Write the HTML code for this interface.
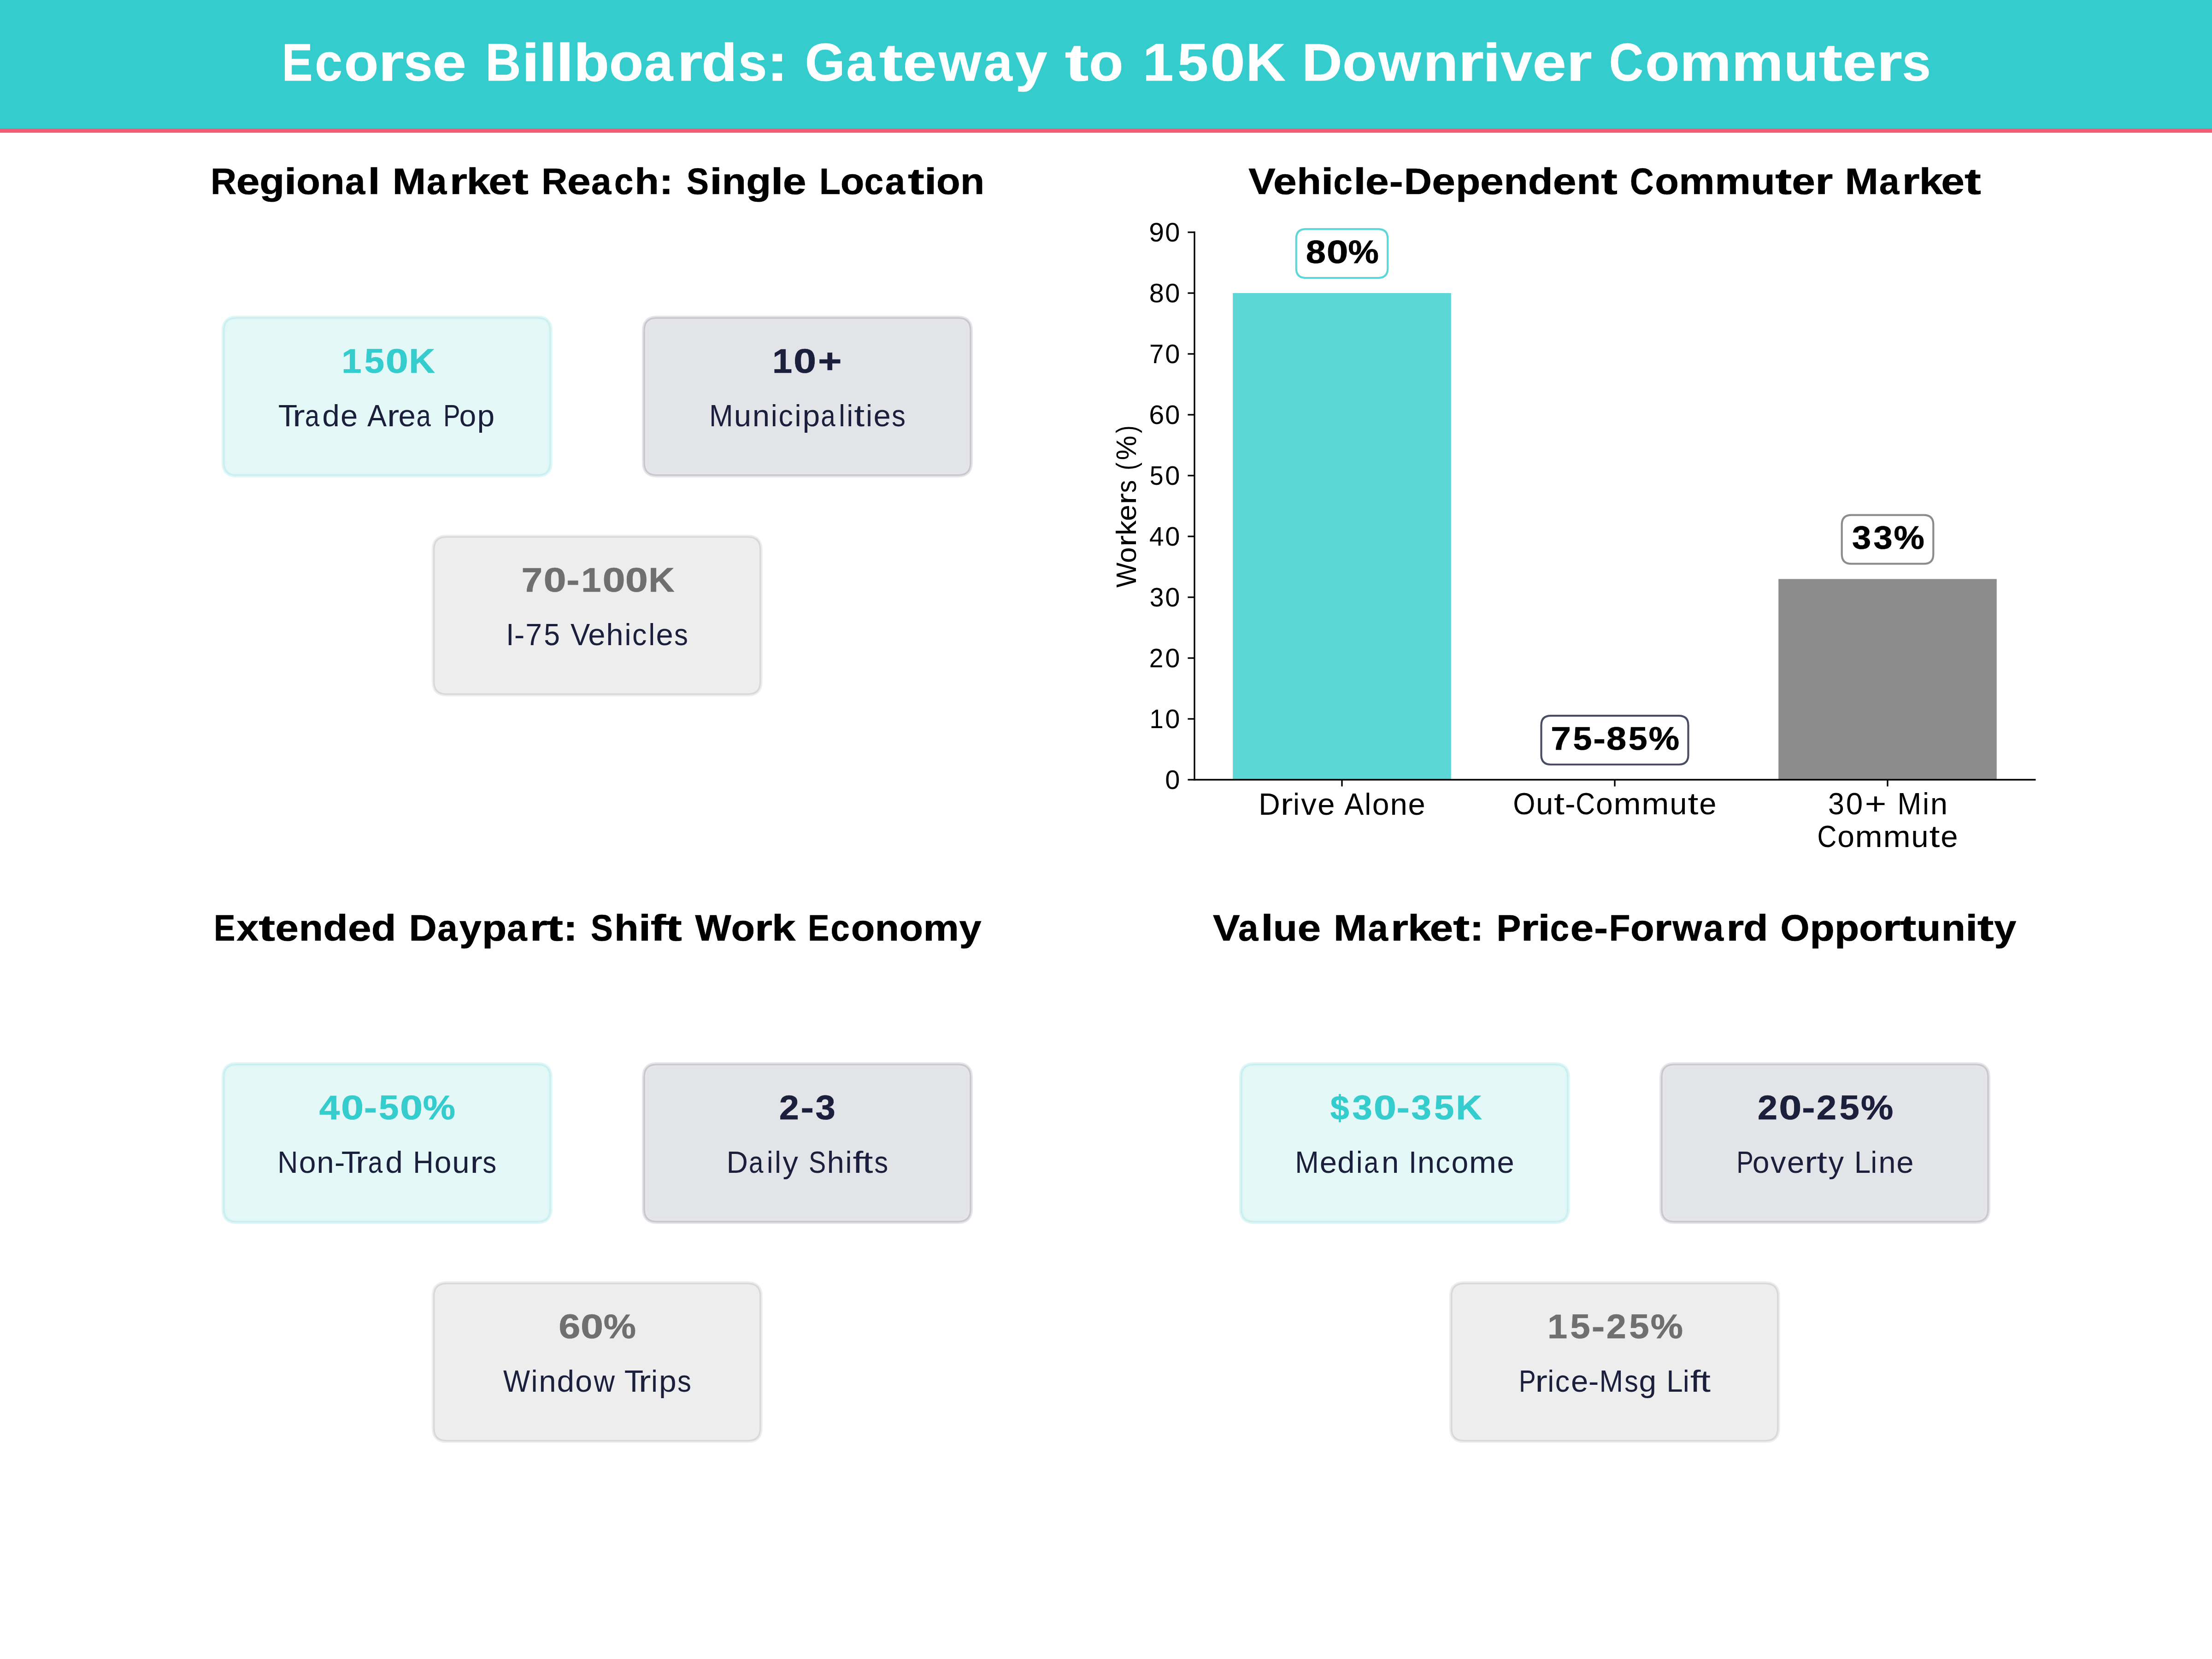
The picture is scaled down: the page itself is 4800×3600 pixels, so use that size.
<!DOCTYPE html>
<html><head><meta charset="utf-8"><style>
html,body{margin:0;padding:0;background:#fff;}
svg{display:block;}
text{font-family:"Liberation Sans", sans-serif;}
</style></head><body>
<svg width="4800" height="3600" viewBox="0 0 4800 3600">
<rect width="4800" height="3600" fill="#fff"/>
<rect x="0" y="0" width="4800" height="279" fill="#35CCCD"/>
<rect x="0" y="279" width="4800" height="9" fill="#F25C74"/>
<text x="611.87" y="175.00" font-size="114.62" font-weight="bold" fill="#FFFFFF" stroke="#FFFFFF" stroke-width="0.7" textLength="66.63" lengthAdjust="spacingAndGlyphs">E</text>
<text x="683.17" y="175.00" font-size="114.62" font-weight="bold" fill="#FFFFFF" stroke="#FFFFFF" stroke-width="0.7" textLength="59.74" lengthAdjust="spacingAndGlyphs">c</text>
<text x="746.82" y="175.00" font-size="114.62" font-weight="bold" fill="#FFFFFF" stroke="#FFFFFF" stroke-width="0.7" textLength="74.60" lengthAdjust="spacingAndGlyphs">o</text>
<text x="820.95" y="175.00" font-size="114.62" font-weight="bold" fill="#FFFFFF" stroke="#FFFFFF" stroke-width="0.7" textLength="55.67" lengthAdjust="spacingAndGlyphs">r</text>
<text x="876.30" y="175.00" font-size="114.62" font-weight="bold" fill="#FFFFFF" stroke="#FFFFFF" stroke-width="0.7" textLength="62.29" lengthAdjust="spacingAndGlyphs">s</text>
<text x="938.79" y="175.00" font-size="114.62" font-weight="bold" fill="#FFFFFF" stroke="#FFFFFF" stroke-width="0.7" textLength="73.26" lengthAdjust="spacingAndGlyphs">e</text>
<text x="1053.15" y="175.00" font-size="114.62" font-weight="bold" fill="#FFFFFF" stroke="#FFFFFF" stroke-width="0.7" textLength="77.13" lengthAdjust="spacingAndGlyphs">B</text>
<text x="1132.32" y="175.00" font-size="114.62" font-weight="bold" fill="#FFFFFF" stroke="#FFFFFF" stroke-width="0.7" textLength="38.41" lengthAdjust="spacingAndGlyphs">i</text>
<text x="1169.46" y="175.00" font-size="114.62" font-weight="bold" fill="#FFFFFF" stroke="#FFFFFF" stroke-width="0.7" textLength="38.41" lengthAdjust="spacingAndGlyphs">l</text>
<text x="1206.59" y="175.00" font-size="114.62" font-weight="bold" fill="#FFFFFF" stroke="#FFFFFF" stroke-width="0.7" textLength="38.41" lengthAdjust="spacingAndGlyphs">l</text>
<text x="1245.11" y="175.00" font-size="114.62" font-weight="bold" fill="#FFFFFF" stroke="#FFFFFF" stroke-width="0.7" textLength="76.98" lengthAdjust="spacingAndGlyphs">b</text>
<text x="1321.86" y="175.00" font-size="114.62" font-weight="bold" fill="#FFFFFF" stroke="#FFFFFF" stroke-width="0.7" textLength="74.60" lengthAdjust="spacingAndGlyphs">o</text>
<text x="1397.90" y="175.00" font-size="114.62" font-weight="bold" fill="#FFFFFF" stroke="#FFFFFF" stroke-width="0.7" textLength="62.18" lengthAdjust="spacingAndGlyphs">a</text>
<text x="1469.09" y="175.00" font-size="114.62" font-weight="bold" fill="#FFFFFF" stroke="#FFFFFF" stroke-width="0.7" textLength="55.67" lengthAdjust="spacingAndGlyphs">r</text>
<text x="1522.37" y="175.00" font-size="114.62" font-weight="bold" fill="#FFFFFF" stroke="#FFFFFF" stroke-width="0.7" textLength="77.29" lengthAdjust="spacingAndGlyphs">d</text>
<text x="1601.98" y="175.00" font-size="114.62" font-weight="bold" fill="#FFFFFF" stroke="#FFFFFF" stroke-width="0.7" textLength="62.29" lengthAdjust="spacingAndGlyphs">s</text>
<text x="1663.66" y="175.00" font-size="114.62" font-weight="bold" fill="#FFFFFF" stroke="#FFFFFF" stroke-width="0.7" textLength="45.92" lengthAdjust="spacingAndGlyphs">:</text>
<text x="1746.78" y="175.00" font-size="114.62" font-weight="bold" fill="#FFFFFF" stroke="#FFFFFF" stroke-width="0.7" textLength="86.84" lengthAdjust="spacingAndGlyphs">G</text>
<text x="1836.40" y="175.00" font-size="114.62" font-weight="bold" fill="#FFFFFF" stroke="#FFFFFF" stroke-width="0.7" textLength="62.18" lengthAdjust="spacingAndGlyphs">a</text>
<text x="1907.44" y="175.00" font-size="114.62" font-weight="bold" fill="#FFFFFF" stroke="#FFFFFF" stroke-width="0.7" textLength="51.70" lengthAdjust="spacingAndGlyphs">t</text>
<text x="1959.31" y="175.00" font-size="114.62" font-weight="bold" fill="#FFFFFF" stroke="#FFFFFF" stroke-width="0.7" textLength="73.26" lengthAdjust="spacingAndGlyphs">e</text>
<text x="2037.20" y="175.00" font-size="114.62" font-weight="bold" fill="#FFFFFF" stroke="#FFFFFF" stroke-width="0.7" textLength="92.14" lengthAdjust="spacingAndGlyphs">w</text>
<text x="2134.85" y="175.00" font-size="114.62" font-weight="bold" fill="#FFFFFF" stroke="#FFFFFF" stroke-width="0.7" textLength="62.18" lengthAdjust="spacingAndGlyphs">a</text>
<text x="2203.21" y="175.00" font-size="114.62" font-weight="bold" fill="#FFFFFF" stroke="#FFFFFF" stroke-width="0.7" textLength="69.14" lengthAdjust="spacingAndGlyphs">y</text>
<text x="2310.88" y="175.00" font-size="114.62" font-weight="bold" fill="#FFFFFF" stroke="#FFFFFF" stroke-width="0.7" textLength="51.70" lengthAdjust="spacingAndGlyphs">t</text>
<text x="2363.12" y="175.00" font-size="114.62" font-weight="bold" fill="#FFFFFF" stroke="#FFFFFF" stroke-width="0.7" textLength="74.60" lengthAdjust="spacingAndGlyphs">o</text>
<text x="2480.00" y="175.00" font-size="114.62" font-weight="bold" fill="#FFFFFF" stroke="#FFFFFF" stroke-width="0.7" textLength="66.44" lengthAdjust="spacingAndGlyphs">1</text>
<text x="2555.28" y="175.00" font-size="114.62" font-weight="bold" fill="#FFFFFF" stroke="#FFFFFF" stroke-width="0.7" textLength="66.54" lengthAdjust="spacingAndGlyphs">5</text>
<text x="2625.96" y="175.00" font-size="114.62" font-weight="bold" fill="#FFFFFF" stroke="#FFFFFF" stroke-width="0.7" textLength="76.02" lengthAdjust="spacingAndGlyphs">0</text>
<text x="2703.35" y="175.00" font-size="114.62" font-weight="bold" fill="#FFFFFF" stroke="#FFFFFF" stroke-width="0.7" textLength="86.42" lengthAdjust="spacingAndGlyphs">K</text>
<text x="2824.91" y="175.00" font-size="114.62" font-weight="bold" fill="#FFFFFF" stroke="#FFFFFF" stroke-width="0.7" textLength="87.48" lengthAdjust="spacingAndGlyphs">D</text>
<text x="2912.98" y="175.00" font-size="114.62" font-weight="bold" fill="#FFFFFF" stroke="#FFFFFF" stroke-width="0.7" textLength="74.60" lengthAdjust="spacingAndGlyphs">o</text>
<text x="2991.46" y="175.00" font-size="114.62" font-weight="bold" fill="#FFFFFF" stroke="#FFFFFF" stroke-width="0.7" textLength="92.14" lengthAdjust="spacingAndGlyphs">w</text>
<text x="3088.46" y="175.00" font-size="114.62" font-weight="bold" fill="#FFFFFF" stroke="#FFFFFF" stroke-width="0.7" textLength="75.40" lengthAdjust="spacingAndGlyphs">n</text>
<text x="3164.32" y="175.00" font-size="114.62" font-weight="bold" fill="#FFFFFF" stroke="#FFFFFF" stroke-width="0.7" textLength="55.67" lengthAdjust="spacingAndGlyphs">r</text>
<text x="3217.45" y="175.00" font-size="114.62" font-weight="bold" fill="#FFFFFF" stroke="#FFFFFF" stroke-width="0.7" textLength="38.41" lengthAdjust="spacingAndGlyphs">i</text>
<text x="3256.43" y="175.00" font-size="114.62" font-weight="bold" fill="#FFFFFF" stroke="#FFFFFF" stroke-width="0.7" textLength="68.31" lengthAdjust="spacingAndGlyphs">v</text>
<text x="3325.42" y="175.00" font-size="114.62" font-weight="bold" fill="#FFFFFF" stroke="#FFFFFF" stroke-width="0.7" textLength="73.26" lengthAdjust="spacingAndGlyphs">e</text>
<text x="3398.97" y="175.00" font-size="114.62" font-weight="bold" fill="#FFFFFF" stroke="#FFFFFF" stroke-width="0.7" textLength="55.67" lengthAdjust="spacingAndGlyphs">r</text>
<text x="3491.67" y="175.00" font-size="114.62" font-weight="bold" fill="#FFFFFF" stroke="#FFFFFF" stroke-width="0.7" textLength="74.19" lengthAdjust="spacingAndGlyphs">C</text>
<text x="3569.91" y="175.00" font-size="114.62" font-weight="bold" fill="#FFFFFF" stroke="#FFFFFF" stroke-width="0.7" textLength="74.60" lengthAdjust="spacingAndGlyphs">o</text>
<text x="3645.19" y="175.00" font-size="114.62" font-weight="bold" fill="#FFFFFF" stroke="#FFFFFF" stroke-width="0.7" textLength="111.25" lengthAdjust="spacingAndGlyphs">m</text>
<text x="3758.08" y="175.00" font-size="114.62" font-weight="bold" fill="#FFFFFF" stroke="#FFFFFF" stroke-width="0.7" textLength="111.25" lengthAdjust="spacingAndGlyphs">m</text>
<text x="3871.14" y="175.00" font-size="114.62" font-weight="bold" fill="#FFFFFF" stroke="#FFFFFF" stroke-width="0.7" textLength="75.06" lengthAdjust="spacingAndGlyphs">u</text>
<text x="3946.77" y="175.00" font-size="114.62" font-weight="bold" fill="#FFFFFF" stroke="#FFFFFF" stroke-width="0.7" textLength="51.70" lengthAdjust="spacingAndGlyphs">t</text>
<text x="3998.64" y="175.00" font-size="114.62" font-weight="bold" fill="#FFFFFF" stroke="#FFFFFF" stroke-width="0.7" textLength="73.26" lengthAdjust="spacingAndGlyphs">e</text>
<text x="4072.19" y="175.00" font-size="114.62" font-weight="bold" fill="#FFFFFF" stroke="#FFFFFF" stroke-width="0.7" textLength="55.67" lengthAdjust="spacingAndGlyphs">r</text>
<text x="4127.53" y="175.00" font-size="114.62" font-weight="bold" fill="#FFFFFF" stroke="#FFFFFF" stroke-width="0.7" textLength="62.29" lengthAdjust="spacingAndGlyphs">s</text>
<text x="456.95" y="421.00" font-size="79.35" font-weight="bold" fill="#000" stroke="#000" stroke-width="0.7" textLength="56.16" lengthAdjust="spacingAndGlyphs">R</text>
<text x="512.66" y="421.00" font-size="79.35" font-weight="bold" fill="#000" stroke="#000" stroke-width="0.7" textLength="50.76" lengthAdjust="spacingAndGlyphs">e</text>
<text x="563.35" y="421.00" font-size="79.35" font-weight="bold" fill="#000" stroke="#000" stroke-width="0.7" textLength="53.96" lengthAdjust="spacingAndGlyphs">g</text>
<text x="617.04" y="421.00" font-size="79.35" font-weight="bold" fill="#000" stroke="#000" stroke-width="0.7" textLength="26.56" lengthAdjust="spacingAndGlyphs">i</text>
<text x="643.17" y="421.00" font-size="79.35" font-weight="bold" fill="#000" stroke="#000" stroke-width="0.7" textLength="51.62" lengthAdjust="spacingAndGlyphs">o</text>
<text x="695.23" y="421.00" font-size="79.35" font-weight="bold" fill="#000" stroke="#000" stroke-width="0.7" textLength="52.27" lengthAdjust="spacingAndGlyphs">n</text>
<text x="749.07" y="421.00" font-size="79.35" font-weight="bold" fill="#000" stroke="#000" stroke-width="0.7" textLength="43.35" lengthAdjust="spacingAndGlyphs">a</text>
<text x="798.28" y="421.00" font-size="79.35" font-weight="bold" fill="#000" stroke="#000" stroke-width="0.7" textLength="26.56" lengthAdjust="spacingAndGlyphs">l</text>
<text x="851.72" y="421.00" font-size="79.35" font-weight="bold" fill="#000" stroke="#000" stroke-width="0.7" textLength="72.35" lengthAdjust="spacingAndGlyphs">M</text>
<text x="926.12" y="421.00" font-size="79.35" font-weight="bold" fill="#000" stroke="#000" stroke-width="0.7" textLength="43.35" lengthAdjust="spacingAndGlyphs">a</text>
<text x="975.43" y="421.00" font-size="79.35" font-weight="bold" fill="#000" stroke="#000" stroke-width="0.7" textLength="38.44" lengthAdjust="spacingAndGlyphs">r</text>
<text x="1012.52" y="421.00" font-size="79.35" font-weight="bold" fill="#000" stroke="#000" stroke-width="0.7" textLength="51.58" lengthAdjust="spacingAndGlyphs">k</text>
<text x="1060.36" y="421.00" font-size="79.35" font-weight="bold" fill="#000" stroke="#000" stroke-width="0.7" textLength="50.76" lengthAdjust="spacingAndGlyphs">e</text>
<text x="1111.09" y="421.00" font-size="79.35" font-weight="bold" fill="#000" stroke="#000" stroke-width="0.7" textLength="35.86" lengthAdjust="spacingAndGlyphs">t</text>
<text x="1175.23" y="421.00" font-size="79.35" font-weight="bold" fill="#000" stroke="#000" stroke-width="0.7" textLength="56.16" lengthAdjust="spacingAndGlyphs">R</text>
<text x="1230.94" y="421.00" font-size="79.35" font-weight="bold" fill="#000" stroke="#000" stroke-width="0.7" textLength="50.76" lengthAdjust="spacingAndGlyphs">e</text>
<text x="1283.03" y="421.00" font-size="79.35" font-weight="bold" fill="#000" stroke="#000" stroke-width="0.7" textLength="43.35" lengthAdjust="spacingAndGlyphs">a</text>
<text x="1333.04" y="421.00" font-size="79.35" font-weight="bold" fill="#000" stroke="#000" stroke-width="0.7" textLength="41.28" lengthAdjust="spacingAndGlyphs">c</text>
<text x="1377.35" y="421.00" font-size="79.35" font-weight="bold" fill="#000" stroke="#000" stroke-width="0.7" textLength="52.61" lengthAdjust="spacingAndGlyphs">h</text>
<text x="1430.30" y="421.00" font-size="79.35" font-weight="bold" fill="#000" stroke="#000" stroke-width="0.7" textLength="30.53" lengthAdjust="spacingAndGlyphs">:</text>
<text x="1490.01" y="421.00" font-size="79.35" font-weight="bold" fill="#000" stroke="#000" stroke-width="0.7" textLength="47.91" lengthAdjust="spacingAndGlyphs">S</text>
<text x="1540.22" y="421.00" font-size="79.35" font-weight="bold" fill="#000" stroke="#000" stroke-width="0.7" textLength="26.56" lengthAdjust="spacingAndGlyphs">i</text>
<text x="1566.87" y="421.00" font-size="79.35" font-weight="bold" fill="#000" stroke="#000" stroke-width="0.7" textLength="52.27" lengthAdjust="spacingAndGlyphs">n</text>
<text x="1619.32" y="421.00" font-size="79.35" font-weight="bold" fill="#000" stroke="#000" stroke-width="0.7" textLength="53.96" lengthAdjust="spacingAndGlyphs">g</text>
<text x="1673.00" y="421.00" font-size="79.35" font-weight="bold" fill="#000" stroke="#000" stroke-width="0.7" textLength="26.56" lengthAdjust="spacingAndGlyphs">l</text>
<text x="1698.88" y="421.00" font-size="79.35" font-weight="bold" fill="#000" stroke="#000" stroke-width="0.7" textLength="50.76" lengthAdjust="spacingAndGlyphs">e</text>
<text x="1778.05" y="421.00" font-size="79.35" font-weight="bold" fill="#000" stroke="#000" stroke-width="0.7" textLength="46.09" lengthAdjust="spacingAndGlyphs">L</text>
<text x="1823.89" y="421.00" font-size="79.35" font-weight="bold" fill="#000" stroke="#000" stroke-width="0.7" textLength="51.62" lengthAdjust="spacingAndGlyphs">o</text>
<text x="1875.80" y="421.00" font-size="79.35" font-weight="bold" fill="#000" stroke="#000" stroke-width="0.7" textLength="41.28" lengthAdjust="spacingAndGlyphs">c</text>
<text x="1920.85" y="421.00" font-size="79.35" font-weight="bold" fill="#000" stroke="#000" stroke-width="0.7" textLength="43.35" lengthAdjust="spacingAndGlyphs">a</text>
<text x="1970.10" y="421.00" font-size="79.35" font-weight="bold" fill="#000" stroke="#000" stroke-width="0.7" textLength="35.86" lengthAdjust="spacingAndGlyphs">t</text>
<text x="2005.92" y="421.00" font-size="79.35" font-weight="bold" fill="#000" stroke="#000" stroke-width="0.7" textLength="26.56" lengthAdjust="spacingAndGlyphs">i</text>
<text x="2032.05" y="421.00" font-size="79.35" font-weight="bold" fill="#000" stroke="#000" stroke-width="0.7" textLength="51.62" lengthAdjust="spacingAndGlyphs">o</text>
<text x="2084.11" y="421.00" font-size="79.35" font-weight="bold" fill="#000" stroke="#000" stroke-width="0.7" textLength="52.27" lengthAdjust="spacingAndGlyphs">n</text>
<path d="M512.80,690.00 H1166.80 Q1193.80,690.00 1193.80,717.00 V1004.00 Q1193.80,1031.00 1166.80,1031.00 H512.80 Q485.80,1031.00 485.80,1004.00 V717.00 Q485.80,690.00 512.80,690.00 Z" fill="#E4F8F8" stroke="#E0F7F8" stroke-width="10"/>
<path d="M512.80,690.00 H1166.80 Q1193.80,690.00 1193.80,717.00 V1004.00 Q1193.80,1031.00 1166.80,1031.00 H512.80 Q485.80,1031.00 485.80,1004.00 V717.00 Q485.80,690.00 512.80,690.00 Z" fill="none" stroke="#CDEEEF" stroke-width="3.6"/>
<text x="741.37" y="808.50" font-size="74.94" font-weight="bold" fill="#34CCCC" stroke="#34CCCC" stroke-width="0.7" textLength="43.17" lengthAdjust="spacingAndGlyphs">1</text>
<text x="790.73" y="808.50" font-size="74.94" font-weight="bold" fill="#34CCCC" stroke="#34CCCC" stroke-width="0.7" textLength="43.36" lengthAdjust="spacingAndGlyphs">5</text>
<text x="836.80" y="808.50" font-size="74.94" font-weight="bold" fill="#34CCCC" stroke="#34CCCC" stroke-width="0.7" textLength="49.26" lengthAdjust="spacingAndGlyphs">0</text>
<text x="887.43" y="808.50" font-size="74.94" font-weight="bold" fill="#34CCCC" stroke="#34CCCC" stroke-width="0.7" textLength="56.36" lengthAdjust="spacingAndGlyphs">K</text>
<text x="603.86" y="924.50" font-size="66.13" fill="#1B1F3B" textLength="41.47" lengthAdjust="spacingAndGlyphs">T</text>
<text x="634.91" y="924.50" font-size="66.13" fill="#1B1F3B" textLength="26.69" lengthAdjust="spacingAndGlyphs">r</text>
<text x="661.76" y="924.50" font-size="66.13" fill="#1B1F3B" textLength="31.37" lengthAdjust="spacingAndGlyphs">a</text>
<text x="699.32" y="924.50" font-size="66.13" fill="#1B1F3B" textLength="37.70" lengthAdjust="spacingAndGlyphs">d</text>
<text x="739.01" y="924.50" font-size="66.13" fill="#1B1F3B" textLength="37.37" lengthAdjust="spacingAndGlyphs">e</text>
<text x="796.90" y="924.50" font-size="66.13" fill="#1B1F3B" textLength="42.09" lengthAdjust="spacingAndGlyphs">A</text>
<text x="839.65" y="924.50" font-size="66.13" fill="#1B1F3B" textLength="26.69" lengthAdjust="spacingAndGlyphs">r</text>
<text x="864.41" y="924.50" font-size="66.13" fill="#1B1F3B" textLength="37.37" lengthAdjust="spacingAndGlyphs">e</text>
<text x="903.58" y="924.50" font-size="66.13" fill="#1B1F3B" textLength="31.37" lengthAdjust="spacingAndGlyphs">a</text>
<text x="962.03" y="924.50" font-size="66.13" fill="#1B1F3B" textLength="36.60" lengthAdjust="spacingAndGlyphs">P</text>
<text x="996.54" y="924.50" font-size="66.13" fill="#1B1F3B" textLength="36.78" lengthAdjust="spacingAndGlyphs">o</text>
<text x="1035.41" y="924.50" font-size="66.13" fill="#1B1F3B" textLength="37.70" lengthAdjust="spacingAndGlyphs">p</text>
<path d="M1425.00,690.00 H2079.00 Q2106.00,690.00 2106.00,717.00 V1004.00 Q2106.00,1031.00 2079.00,1031.00 H1425.00 Q1398.00,1031.00 1398.00,1004.00 V717.00 Q1398.00,690.00 1425.00,690.00 Z" fill="#E3E4E8" stroke="#E5E6EA" stroke-width="10"/>
<path d="M1425.00,690.00 H2079.00 Q2106.00,690.00 2106.00,717.00 V1004.00 Q2106.00,1031.00 2079.00,1031.00 H1425.00 Q1398.00,1031.00 1398.00,1004.00 V717.00 Q1398.00,690.00 1425.00,690.00 Z" fill="none" stroke="#C8C8CE" stroke-width="3.6"/>
<text x="1675.98" y="808.50" font-size="74.94" font-weight="bold" fill="#1B1F3B" stroke="#1B1F3B" stroke-width="0.7" textLength="43.17" lengthAdjust="spacingAndGlyphs">1</text>
<text x="1722.13" y="808.50" font-size="74.94" font-weight="bold" fill="#1B1F3B" stroke="#1B1F3B" stroke-width="0.7" textLength="49.26" lengthAdjust="spacingAndGlyphs">0</text>
<text x="1775.12" y="808.50" font-size="74.94" font-weight="bold" fill="#1B1F3B" stroke="#1B1F3B" stroke-width="0.7" textLength="51.64" lengthAdjust="spacingAndGlyphs">+</text>
<text x="1539.06" y="924.50" font-size="66.13" fill="#1B1F3B" textLength="51.66" lengthAdjust="spacingAndGlyphs">M</text>
<text x="1592.81" y="924.50" font-size="66.13" fill="#1B1F3B" textLength="37.43" lengthAdjust="spacingAndGlyphs">u</text>
<text x="1632.67" y="924.50" font-size="66.13" fill="#1B1F3B" textLength="37.43" lengthAdjust="spacingAndGlyphs">n</text>
<text x="1672.82" y="924.50" font-size="66.13" fill="#1B1F3B" textLength="14.05" lengthAdjust="spacingAndGlyphs">i</text>
<text x="1689.38" y="924.50" font-size="66.13" fill="#1B1F3B" textLength="31.32" lengthAdjust="spacingAndGlyphs">c</text>
<text x="1724.54" y="924.50" font-size="66.13" fill="#1B1F3B" textLength="14.05" lengthAdjust="spacingAndGlyphs">i</text>
<text x="1741.59" y="924.50" font-size="66.13" fill="#1B1F3B" textLength="37.70" lengthAdjust="spacingAndGlyphs">p</text>
<text x="1781.30" y="924.50" font-size="66.13" fill="#1B1F3B" textLength="31.37" lengthAdjust="spacingAndGlyphs">a</text>
<text x="1819.88" y="924.50" font-size="66.13" fill="#1B1F3B" textLength="14.05" lengthAdjust="spacingAndGlyphs">l</text>
<text x="1837.24" y="924.50" font-size="66.13" fill="#1B1F3B" textLength="14.05" lengthAdjust="spacingAndGlyphs">i</text>
<text x="1853.37" y="924.50" font-size="66.13" fill="#1B1F3B" textLength="22.96" lengthAdjust="spacingAndGlyphs">t</text>
<text x="1879.11" y="924.50" font-size="66.13" fill="#1B1F3B" textLength="14.05" lengthAdjust="spacingAndGlyphs">i</text>
<text x="1895.48" y="924.50" font-size="66.13" fill="#1B1F3B" textLength="37.37" lengthAdjust="spacingAndGlyphs">e</text>
<text x="1934.93" y="924.50" font-size="66.13" fill="#1B1F3B" textLength="29.90" lengthAdjust="spacingAndGlyphs">s</text>
<path d="M968.75,1165.25 H1622.75 Q1649.75,1165.25 1649.75,1192.25 V1479.25 Q1649.75,1506.25 1622.75,1506.25 H968.75 Q941.75,1506.25 941.75,1479.25 V1192.25 Q941.75,1165.25 968.75,1165.25 Z" fill="#EDEDED" stroke="#EEEEEE" stroke-width="10"/>
<path d="M968.75,1165.25 H1622.75 Q1649.75,1165.25 1649.75,1192.25 V1479.25 Q1649.75,1506.25 1622.75,1506.25 H968.75 Q941.75,1506.25 941.75,1479.25 V1192.25 Q941.75,1165.25 968.75,1165.25 Z" fill="none" stroke="#D9D9D9" stroke-width="3.6"/>
<text x="1131.42" y="1283.75" font-size="74.94" font-weight="bold" fill="#6F6F6F" stroke="#6F6F6F" stroke-width="0.7" textLength="45.82" lengthAdjust="spacingAndGlyphs">7</text>
<text x="1179.48" y="1283.75" font-size="74.94" font-weight="bold" fill="#6F6F6F" stroke="#6F6F6F" stroke-width="0.7" textLength="49.26" lengthAdjust="spacingAndGlyphs">0</text>
<text x="1229.13" y="1283.75" font-size="74.94" font-weight="bold" fill="#6F6F6F" stroke="#6F6F6F" stroke-width="0.7" textLength="28.57" lengthAdjust="spacingAndGlyphs">-</text>
<text x="1261.30" y="1283.75" font-size="74.94" font-weight="bold" fill="#6F6F6F" stroke="#6F6F6F" stroke-width="0.7" textLength="43.17" lengthAdjust="spacingAndGlyphs">1</text>
<text x="1307.45" y="1283.75" font-size="74.94" font-weight="bold" fill="#6F6F6F" stroke="#6F6F6F" stroke-width="0.7" textLength="49.26" lengthAdjust="spacingAndGlyphs">0</text>
<text x="1356.74" y="1283.75" font-size="74.94" font-weight="bold" fill="#6F6F6F" stroke="#6F6F6F" stroke-width="0.7" textLength="49.26" lengthAdjust="spacingAndGlyphs">0</text>
<text x="1407.37" y="1283.75" font-size="74.94" font-weight="bold" fill="#6F6F6F" stroke="#6F6F6F" stroke-width="0.7" textLength="56.36" lengthAdjust="spacingAndGlyphs">K</text>
<text x="1097.89" y="1399.75" font-size="66.13" fill="#1B1F3B" textLength="17.64" lengthAdjust="spacingAndGlyphs">I</text>
<text x="1115.73" y="1399.75" font-size="66.13" fill="#1B1F3B" textLength="22.71" lengthAdjust="spacingAndGlyphs">-</text>
<text x="1140.22" y="1399.75" font-size="66.13" fill="#1B1F3B" textLength="35.86" lengthAdjust="spacingAndGlyphs">7</text>
<text x="1180.31" y="1399.75" font-size="66.13" fill="#1B1F3B" textLength="34.72" lengthAdjust="spacingAndGlyphs">5</text>
<text x="1238.04" y="1399.75" font-size="66.13" fill="#1B1F3B" textLength="42.33" lengthAdjust="spacingAndGlyphs">V</text>
<text x="1276.39" y="1399.75" font-size="66.13" fill="#1B1F3B" textLength="37.37" lengthAdjust="spacingAndGlyphs">e</text>
<text x="1315.30" y="1399.75" font-size="66.13" fill="#1B1F3B" textLength="37.43" lengthAdjust="spacingAndGlyphs">h</text>
<text x="1355.45" y="1399.75" font-size="66.13" fill="#1B1F3B" textLength="14.05" lengthAdjust="spacingAndGlyphs">i</text>
<text x="1372.01" y="1399.75" font-size="66.13" fill="#1B1F3B" textLength="31.32" lengthAdjust="spacingAndGlyphs">c</text>
<text x="1407.18" y="1399.75" font-size="66.13" fill="#1B1F3B" textLength="14.05" lengthAdjust="spacingAndGlyphs">l</text>
<text x="1423.54" y="1399.75" font-size="66.13" fill="#1B1F3B" textLength="37.37" lengthAdjust="spacingAndGlyphs">e</text>
<text x="1462.99" y="1399.75" font-size="66.13" fill="#1B1F3B" textLength="29.90" lengthAdjust="spacingAndGlyphs">s</text>
<text x="464.31" y="2041.00" font-size="79.35" font-weight="bold" fill="#000" stroke="#000" stroke-width="0.7" textLength="46.09" lengthAdjust="spacingAndGlyphs">E</text>
<text x="513.58" y="2041.00" font-size="79.35" font-weight="bold" fill="#000" stroke="#000" stroke-width="0.7" textLength="47.48" lengthAdjust="spacingAndGlyphs">x</text>
<text x="561.18" y="2041.00" font-size="79.35" font-weight="bold" fill="#000" stroke="#000" stroke-width="0.7" textLength="35.86" lengthAdjust="spacingAndGlyphs">t</text>
<text x="597.17" y="2041.00" font-size="79.35" font-weight="bold" fill="#000" stroke="#000" stroke-width="0.7" textLength="50.76" lengthAdjust="spacingAndGlyphs">e</text>
<text x="648.82" y="2041.00" font-size="79.35" font-weight="bold" fill="#000" stroke="#000" stroke-width="0.7" textLength="52.27" lengthAdjust="spacingAndGlyphs">n</text>
<text x="701.28" y="2041.00" font-size="79.35" font-weight="bold" fill="#000" stroke="#000" stroke-width="0.7" textLength="53.62" lengthAdjust="spacingAndGlyphs">d</text>
<text x="755.12" y="2041.00" font-size="79.35" font-weight="bold" fill="#000" stroke="#000" stroke-width="0.7" textLength="50.76" lengthAdjust="spacingAndGlyphs">e</text>
<text x="805.84" y="2041.00" font-size="79.35" font-weight="bold" fill="#000" stroke="#000" stroke-width="0.7" textLength="53.62" lengthAdjust="spacingAndGlyphs">d</text>
<text x="887.46" y="2041.00" font-size="79.35" font-weight="bold" fill="#000" stroke="#000" stroke-width="0.7" textLength="60.24" lengthAdjust="spacingAndGlyphs">D</text>
<text x="949.27" y="2041.00" font-size="79.35" font-weight="bold" fill="#000" stroke="#000" stroke-width="0.7" textLength="43.35" lengthAdjust="spacingAndGlyphs">a</text>
<text x="996.72" y="2041.00" font-size="79.35" font-weight="bold" fill="#000" stroke="#000" stroke-width="0.7" textLength="48.00" lengthAdjust="spacingAndGlyphs">y</text>
<text x="1045.90" y="2041.00" font-size="79.35" font-weight="bold" fill="#000" stroke="#000" stroke-width="0.7" textLength="53.32" lengthAdjust="spacingAndGlyphs">p</text>
<text x="1100.15" y="2041.00" font-size="79.35" font-weight="bold" fill="#000" stroke="#000" stroke-width="0.7" textLength="43.35" lengthAdjust="spacingAndGlyphs">a</text>
<text x="1149.46" y="2041.00" font-size="79.35" font-weight="bold" fill="#000" stroke="#000" stroke-width="0.7" textLength="38.44" lengthAdjust="spacingAndGlyphs">r</text>
<text x="1186.38" y="2041.00" font-size="79.35" font-weight="bold" fill="#000" stroke="#000" stroke-width="0.7" textLength="35.86" lengthAdjust="spacingAndGlyphs">t</text>
<text x="1222.41" y="2041.00" font-size="79.35" font-weight="bold" fill="#000" stroke="#000" stroke-width="0.7" textLength="30.53" lengthAdjust="spacingAndGlyphs">:</text>
<text x="1282.11" y="2041.00" font-size="79.35" font-weight="bold" fill="#000" stroke="#000" stroke-width="0.7" textLength="47.91" lengthAdjust="spacingAndGlyphs">S</text>
<text x="1332.96" y="2041.00" font-size="79.35" font-weight="bold" fill="#000" stroke="#000" stroke-width="0.7" textLength="52.61" lengthAdjust="spacingAndGlyphs">h</text>
<text x="1385.71" y="2041.00" font-size="79.35" font-weight="bold" fill="#000" stroke="#000" stroke-width="0.7" textLength="26.56" lengthAdjust="spacingAndGlyphs">i</text>
<text x="1411.73" y="2041.00" font-size="79.35" font-weight="bold" fill="#000" stroke="#000" stroke-width="0.7" textLength="33.22" lengthAdjust="spacingAndGlyphs">f</text>
<text x="1444.08" y="2041.00" font-size="79.35" font-weight="bold" fill="#000" stroke="#000" stroke-width="0.7" textLength="35.86" lengthAdjust="spacingAndGlyphs">t</text>
<text x="1508.62" y="2041.00" font-size="79.35" font-weight="bold" fill="#000" stroke="#000" stroke-width="0.7" textLength="78.15" lengthAdjust="spacingAndGlyphs">W</text>
<text x="1586.48" y="2041.00" font-size="79.35" font-weight="bold" fill="#000" stroke="#000" stroke-width="0.7" textLength="51.62" lengthAdjust="spacingAndGlyphs">o</text>
<text x="1637.69" y="2041.00" font-size="79.35" font-weight="bold" fill="#000" stroke="#000" stroke-width="0.7" textLength="38.44" lengthAdjust="spacingAndGlyphs">r</text>
<text x="1674.77" y="2041.00" font-size="79.35" font-weight="bold" fill="#000" stroke="#000" stroke-width="0.7" textLength="51.58" lengthAdjust="spacingAndGlyphs">k</text>
<text x="1753.34" y="2041.00" font-size="79.35" font-weight="bold" fill="#000" stroke="#000" stroke-width="0.7" textLength="46.09" lengthAdjust="spacingAndGlyphs">E</text>
<text x="1802.60" y="2041.00" font-size="79.35" font-weight="bold" fill="#000" stroke="#000" stroke-width="0.7" textLength="41.28" lengthAdjust="spacingAndGlyphs">c</text>
<text x="1846.68" y="2041.00" font-size="79.35" font-weight="bold" fill="#000" stroke="#000" stroke-width="0.7" textLength="51.62" lengthAdjust="spacingAndGlyphs">o</text>
<text x="1898.74" y="2041.00" font-size="79.35" font-weight="bold" fill="#000" stroke="#000" stroke-width="0.7" textLength="52.27" lengthAdjust="spacingAndGlyphs">n</text>
<text x="1951.60" y="2041.00" font-size="79.35" font-weight="bold" fill="#000" stroke="#000" stroke-width="0.7" textLength="51.62" lengthAdjust="spacingAndGlyphs">o</text>
<text x="2003.57" y="2041.00" font-size="79.35" font-weight="bold" fill="#000" stroke="#000" stroke-width="0.7" textLength="77.29" lengthAdjust="spacingAndGlyphs">m</text>
<text x="2081.41" y="2041.00" font-size="79.35" font-weight="bold" fill="#000" stroke="#000" stroke-width="0.7" textLength="48.00" lengthAdjust="spacingAndGlyphs">y</text>
<path d="M512.80,2310.00 H1166.80 Q1193.80,2310.00 1193.80,2337.00 V2624.00 Q1193.80,2651.00 1166.80,2651.00 H512.80 Q485.80,2651.00 485.80,2624.00 V2337.00 Q485.80,2310.00 512.80,2310.00 Z" fill="#E4F8F8" stroke="#E0F7F8" stroke-width="10"/>
<path d="M512.80,2310.00 H1166.80 Q1193.80,2310.00 1193.80,2337.00 V2624.00 Q1193.80,2651.00 1166.80,2651.00 H512.80 Q485.80,2651.00 485.80,2624.00 V2337.00 Q485.80,2310.00 512.80,2310.00 Z" fill="none" stroke="#CDEEEF" stroke-width="3.6"/>
<text x="692.81" y="2428.50" font-size="74.94" font-weight="bold" fill="#34CCCC" stroke="#34CCCC" stroke-width="0.7" textLength="44.55" lengthAdjust="spacingAndGlyphs">4</text>
<text x="740.13" y="2428.50" font-size="74.94" font-weight="bold" fill="#34CCCC" stroke="#34CCCC" stroke-width="0.7" textLength="49.26" lengthAdjust="spacingAndGlyphs">0</text>
<text x="789.78" y="2428.50" font-size="74.94" font-weight="bold" fill="#34CCCC" stroke="#34CCCC" stroke-width="0.7" textLength="28.57" lengthAdjust="spacingAndGlyphs">-</text>
<text x="822.03" y="2428.50" font-size="74.94" font-weight="bold" fill="#34CCCC" stroke="#34CCCC" stroke-width="0.7" textLength="43.36" lengthAdjust="spacingAndGlyphs">5</text>
<text x="868.10" y="2428.50" font-size="74.94" font-weight="bold" fill="#34CCCC" stroke="#34CCCC" stroke-width="0.7" textLength="49.26" lengthAdjust="spacingAndGlyphs">0</text>
<text x="917.84" y="2428.50" font-size="74.94" font-weight="bold" fill="#34CCCC" stroke="#34CCCC" stroke-width="0.7" textLength="70.34" lengthAdjust="spacingAndGlyphs">%</text>
<text x="602.32" y="2544.50" font-size="66.13" fill="#1B1F3B" textLength="44.20" lengthAdjust="spacingAndGlyphs">N</text>
<text x="648.66" y="2544.50" font-size="66.13" fill="#1B1F3B" textLength="36.78" lengthAdjust="spacingAndGlyphs">o</text>
<text x="687.31" y="2544.50" font-size="66.13" fill="#1B1F3B" textLength="37.43" lengthAdjust="spacingAndGlyphs">n</text>
<text x="725.66" y="2544.50" font-size="66.13" fill="#1B1F3B" textLength="22.71" lengthAdjust="spacingAndGlyphs">-</text>
<text x="740.78" y="2544.50" font-size="66.13" fill="#1B1F3B" textLength="41.47" lengthAdjust="spacingAndGlyphs">T</text>
<text x="771.83" y="2544.50" font-size="66.13" fill="#1B1F3B" textLength="26.69" lengthAdjust="spacingAndGlyphs">r</text>
<text x="798.68" y="2544.50" font-size="66.13" fill="#1B1F3B" textLength="31.37" lengthAdjust="spacingAndGlyphs">a</text>
<text x="836.23" y="2544.50" font-size="66.13" fill="#1B1F3B" textLength="37.70" lengthAdjust="spacingAndGlyphs">d</text>
<text x="896.22" y="2544.50" font-size="66.13" fill="#1B1F3B" textLength="44.53" lengthAdjust="spacingAndGlyphs">H</text>
<text x="942.84" y="2544.50" font-size="66.13" fill="#1B1F3B" textLength="36.78" lengthAdjust="spacingAndGlyphs">o</text>
<text x="981.25" y="2544.50" font-size="66.13" fill="#1B1F3B" textLength="37.43" lengthAdjust="spacingAndGlyphs">u</text>
<text x="1020.21" y="2544.50" font-size="66.13" fill="#1B1F3B" textLength="26.69" lengthAdjust="spacingAndGlyphs">r</text>
<text x="1047.34" y="2544.50" font-size="66.13" fill="#1B1F3B" textLength="29.90" lengthAdjust="spacingAndGlyphs">s</text>
<path d="M1425.00,2310.00 H2079.00 Q2106.00,2310.00 2106.00,2337.00 V2624.00 Q2106.00,2651.00 2079.00,2651.00 H1425.00 Q1398.00,2651.00 1398.00,2624.00 V2337.00 Q1398.00,2310.00 1425.00,2310.00 Z" fill="#E3E4E8" stroke="#E5E6EA" stroke-width="10"/>
<path d="M1425.00,2310.00 H2079.00 Q2106.00,2310.00 2106.00,2337.00 V2624.00 Q2106.00,2651.00 2079.00,2651.00 H1425.00 Q1398.00,2651.00 1398.00,2624.00 V2337.00 Q1398.00,2310.00 1425.00,2310.00 Z" fill="none" stroke="#C8C8CE" stroke-width="3.6"/>
<text x="1690.79" y="2428.50" font-size="74.94" font-weight="bold" fill="#1B1F3B" stroke="#1B1F3B" stroke-width="0.7" textLength="43.12" lengthAdjust="spacingAndGlyphs">2</text>
<text x="1737.47" y="2428.50" font-size="74.94" font-weight="bold" fill="#1B1F3B" stroke="#1B1F3B" stroke-width="0.7" textLength="28.57" lengthAdjust="spacingAndGlyphs">-</text>
<text x="1769.48" y="2428.50" font-size="74.94" font-weight="bold" fill="#1B1F3B" stroke="#1B1F3B" stroke-width="0.7" textLength="43.36" lengthAdjust="spacingAndGlyphs">3</text>
<text x="1576.45" y="2544.50" font-size="66.13" fill="#1B1F3B" textLength="46.54" lengthAdjust="spacingAndGlyphs">D</text>
<text x="1625.11" y="2544.50" font-size="66.13" fill="#1B1F3B" textLength="31.37" lengthAdjust="spacingAndGlyphs">a</text>
<text x="1663.69" y="2544.50" font-size="66.13" fill="#1B1F3B" textLength="14.05" lengthAdjust="spacingAndGlyphs">i</text>
<text x="1681.05" y="2544.50" font-size="66.13" fill="#1B1F3B" textLength="14.05" lengthAdjust="spacingAndGlyphs">l</text>
<text x="1698.46" y="2544.50" font-size="66.13" fill="#1B1F3B" textLength="33.31" lengthAdjust="spacingAndGlyphs">y</text>
<text x="1755.06" y="2544.50" font-size="66.13" fill="#1B1F3B" textLength="37.19" lengthAdjust="spacingAndGlyphs">S</text>
<text x="1794.41" y="2544.50" font-size="66.13" fill="#1B1F3B" textLength="37.43" lengthAdjust="spacingAndGlyphs">h</text>
<text x="1834.55" y="2544.50" font-size="66.13" fill="#1B1F3B" textLength="14.05" lengthAdjust="spacingAndGlyphs">i</text>
<text x="1850.44" y="2544.50" font-size="66.13" fill="#1B1F3B" textLength="22.83" lengthAdjust="spacingAndGlyphs">f</text>
<text x="1871.59" y="2544.50" font-size="66.13" fill="#1B1F3B" textLength="22.96" lengthAdjust="spacingAndGlyphs">t</text>
<text x="1897.33" y="2544.50" font-size="66.13" fill="#1B1F3B" textLength="29.90" lengthAdjust="spacingAndGlyphs">s</text>
<path d="M968.75,2785.25 H1622.75 Q1649.75,2785.25 1649.75,2812.25 V3099.25 Q1649.75,3126.25 1622.75,3126.25 H968.75 Q941.75,3126.25 941.75,3099.25 V2812.25 Q941.75,2785.25 968.75,2785.25 Z" fill="#EDEDED" stroke="#EEEEEE" stroke-width="10"/>
<path d="M968.75,2785.25 H1622.75 Q1649.75,2785.25 1649.75,2812.25 V3099.25 Q1649.75,3126.25 1622.75,3126.25 H968.75 Q941.75,3126.25 941.75,3099.25 V2812.25 Q941.75,2785.25 968.75,2785.25 Z" fill="none" stroke="#D9D9D9" stroke-width="3.6"/>
<text x="1212.22" y="2903.75" font-size="74.94" font-weight="bold" fill="#6F6F6F" stroke="#6F6F6F" stroke-width="0.7" textLength="47.14" lengthAdjust="spacingAndGlyphs">6</text>
<text x="1260.07" y="2903.75" font-size="74.94" font-weight="bold" fill="#6F6F6F" stroke="#6F6F6F" stroke-width="0.7" textLength="49.26" lengthAdjust="spacingAndGlyphs">0</text>
<text x="1309.81" y="2903.75" font-size="74.94" font-weight="bold" fill="#6F6F6F" stroke="#6F6F6F" stroke-width="0.7" textLength="70.34" lengthAdjust="spacingAndGlyphs">%</text>
<text x="1092.11" y="3019.75" font-size="66.13" fill="#1B1F3B" textLength="58.13" lengthAdjust="spacingAndGlyphs">W</text>
<text x="1152.46" y="3019.75" font-size="66.13" fill="#1B1F3B" textLength="14.05" lengthAdjust="spacingAndGlyphs">i</text>
<text x="1169.29" y="3019.75" font-size="66.13" fill="#1B1F3B" textLength="37.43" lengthAdjust="spacingAndGlyphs">n</text>
<text x="1208.41" y="3019.75" font-size="66.13" fill="#1B1F3B" textLength="37.70" lengthAdjust="spacingAndGlyphs">d</text>
<text x="1248.16" y="3019.75" font-size="66.13" fill="#1B1F3B" textLength="36.78" lengthAdjust="spacingAndGlyphs">o</text>
<text x="1288.40" y="3019.75" font-size="66.13" fill="#1B1F3B" textLength="45.52" lengthAdjust="spacingAndGlyphs">w</text>
<text x="1354.84" y="3019.75" font-size="66.13" fill="#1B1F3B" textLength="41.47" lengthAdjust="spacingAndGlyphs">T</text>
<text x="1385.89" y="3019.75" font-size="66.13" fill="#1B1F3B" textLength="26.69" lengthAdjust="spacingAndGlyphs">r</text>
<text x="1413.02" y="3019.75" font-size="66.13" fill="#1B1F3B" textLength="14.05" lengthAdjust="spacingAndGlyphs">i</text>
<text x="1430.07" y="3019.75" font-size="66.13" fill="#1B1F3B" textLength="37.70" lengthAdjust="spacingAndGlyphs">p</text>
<text x="1470.05" y="3019.75" font-size="66.13" fill="#1B1F3B" textLength="29.90" lengthAdjust="spacingAndGlyphs">s</text>
<text x="2632.06" y="2041.00" font-size="79.35" font-weight="bold" fill="#000" stroke="#000" stroke-width="0.7" textLength="58.55" lengthAdjust="spacingAndGlyphs">V</text>
<text x="2687.08" y="2041.00" font-size="79.35" font-weight="bold" fill="#000" stroke="#000" stroke-width="0.7" textLength="43.35" lengthAdjust="spacingAndGlyphs">a</text>
<text x="2736.30" y="2041.00" font-size="79.35" font-weight="bold" fill="#000" stroke="#000" stroke-width="0.7" textLength="26.56" lengthAdjust="spacingAndGlyphs">l</text>
<text x="2762.73" y="2041.00" font-size="79.35" font-weight="bold" fill="#000" stroke="#000" stroke-width="0.7" textLength="52.27" lengthAdjust="spacingAndGlyphs">u</text>
<text x="2815.57" y="2041.00" font-size="79.35" font-weight="bold" fill="#000" stroke="#000" stroke-width="0.7" textLength="50.76" lengthAdjust="spacingAndGlyphs">e</text>
<text x="2894.00" y="2041.00" font-size="79.35" font-weight="bold" fill="#000" stroke="#000" stroke-width="0.7" textLength="72.35" lengthAdjust="spacingAndGlyphs">M</text>
<text x="2968.40" y="2041.00" font-size="79.35" font-weight="bold" fill="#000" stroke="#000" stroke-width="0.7" textLength="43.35" lengthAdjust="spacingAndGlyphs">a</text>
<text x="3017.71" y="2041.00" font-size="79.35" font-weight="bold" fill="#000" stroke="#000" stroke-width="0.7" textLength="38.44" lengthAdjust="spacingAndGlyphs">r</text>
<text x="3054.80" y="2041.00" font-size="79.35" font-weight="bold" fill="#000" stroke="#000" stroke-width="0.7" textLength="51.58" lengthAdjust="spacingAndGlyphs">k</text>
<text x="3102.64" y="2041.00" font-size="79.35" font-weight="bold" fill="#000" stroke="#000" stroke-width="0.7" textLength="50.76" lengthAdjust="spacingAndGlyphs">e</text>
<text x="3153.37" y="2041.00" font-size="79.35" font-weight="bold" fill="#000" stroke="#000" stroke-width="0.7" textLength="35.86" lengthAdjust="spacingAndGlyphs">t</text>
<text x="3189.39" y="2041.00" font-size="79.35" font-weight="bold" fill="#000" stroke="#000" stroke-width="0.7" textLength="30.53" lengthAdjust="spacingAndGlyphs">:</text>
<text x="3247.40" y="2041.00" font-size="79.35" font-weight="bold" fill="#000" stroke="#000" stroke-width="0.7" textLength="52.93" lengthAdjust="spacingAndGlyphs">P</text>
<text x="3300.35" y="2041.00" font-size="79.35" font-weight="bold" fill="#000" stroke="#000" stroke-width="0.7" textLength="38.44" lengthAdjust="spacingAndGlyphs">r</text>
<text x="3337.25" y="2041.00" font-size="79.35" font-weight="bold" fill="#000" stroke="#000" stroke-width="0.7" textLength="26.56" lengthAdjust="spacingAndGlyphs">i</text>
<text x="3363.75" y="2041.00" font-size="79.35" font-weight="bold" fill="#000" stroke="#000" stroke-width="0.7" textLength="41.28" lengthAdjust="spacingAndGlyphs">c</text>
<text x="3407.58" y="2041.00" font-size="79.35" font-weight="bold" fill="#000" stroke="#000" stroke-width="0.7" textLength="50.76" lengthAdjust="spacingAndGlyphs">e</text>
<text x="3459.24" y="2041.00" font-size="79.35" font-weight="bold" fill="#000" stroke="#000" stroke-width="0.7" textLength="30.01" lengthAdjust="spacingAndGlyphs">-</text>
<text x="3491.80" y="2041.00" font-size="79.35" font-weight="bold" fill="#000" stroke="#000" stroke-width="0.7" textLength="45.76" lengthAdjust="spacingAndGlyphs">F</text>
<text x="3538.02" y="2041.00" font-size="79.35" font-weight="bold" fill="#000" stroke="#000" stroke-width="0.7" textLength="51.62" lengthAdjust="spacingAndGlyphs">o</text>
<text x="3589.23" y="2041.00" font-size="79.35" font-weight="bold" fill="#000" stroke="#000" stroke-width="0.7" textLength="38.44" lengthAdjust="spacingAndGlyphs">r</text>
<text x="3629.49" y="2041.00" font-size="79.35" font-weight="bold" fill="#000" stroke="#000" stroke-width="0.7" textLength="63.71" lengthAdjust="spacingAndGlyphs">w</text>
<text x="3696.80" y="2041.00" font-size="79.35" font-weight="bold" fill="#000" stroke="#000" stroke-width="0.7" textLength="43.35" lengthAdjust="spacingAndGlyphs">a</text>
<text x="3746.11" y="2041.00" font-size="79.35" font-weight="bold" fill="#000" stroke="#000" stroke-width="0.7" textLength="38.44" lengthAdjust="spacingAndGlyphs">r</text>
<text x="3783.03" y="2041.00" font-size="79.35" font-weight="bold" fill="#000" stroke="#000" stroke-width="0.7" textLength="53.62" lengthAdjust="spacingAndGlyphs">d</text>
<text x="3863.59" y="2041.00" font-size="79.35" font-weight="bold" fill="#000" stroke="#000" stroke-width="0.7" textLength="63.12" lengthAdjust="spacingAndGlyphs">O</text>
<text x="3927.40" y="2041.00" font-size="79.35" font-weight="bold" fill="#000" stroke="#000" stroke-width="0.7" textLength="53.32" lengthAdjust="spacingAndGlyphs">p</text>
<text x="3981.09" y="2041.00" font-size="79.35" font-weight="bold" fill="#000" stroke="#000" stroke-width="0.7" textLength="53.32" lengthAdjust="spacingAndGlyphs">p</text>
<text x="4034.35" y="2041.00" font-size="79.35" font-weight="bold" fill="#000" stroke="#000" stroke-width="0.7" textLength="51.62" lengthAdjust="spacingAndGlyphs">o</text>
<text x="4085.56" y="2041.00" font-size="79.35" font-weight="bold" fill="#000" stroke="#000" stroke-width="0.7" textLength="38.44" lengthAdjust="spacingAndGlyphs">r</text>
<text x="4122.49" y="2041.00" font-size="79.35" font-weight="bold" fill="#000" stroke="#000" stroke-width="0.7" textLength="35.86" lengthAdjust="spacingAndGlyphs">t</text>
<text x="4159.02" y="2041.00" font-size="79.35" font-weight="bold" fill="#000" stroke="#000" stroke-width="0.7" textLength="52.27" lengthAdjust="spacingAndGlyphs">u</text>
<text x="4212.65" y="2041.00" font-size="79.35" font-weight="bold" fill="#000" stroke="#000" stroke-width="0.7" textLength="52.27" lengthAdjust="spacingAndGlyphs">n</text>
<text x="4265.09" y="2041.00" font-size="79.35" font-weight="bold" fill="#000" stroke="#000" stroke-width="0.7" textLength="26.56" lengthAdjust="spacingAndGlyphs">i</text>
<text x="4290.83" y="2041.00" font-size="79.35" font-weight="bold" fill="#000" stroke="#000" stroke-width="0.7" textLength="35.86" lengthAdjust="spacingAndGlyphs">t</text>
<text x="4327.20" y="2041.00" font-size="79.35" font-weight="bold" fill="#000" stroke="#000" stroke-width="0.7" textLength="48.00" lengthAdjust="spacingAndGlyphs">y</text>
<path d="M2720.80,2310.00 H3374.80 Q3401.80,2310.00 3401.80,2337.00 V2624.00 Q3401.80,2651.00 3374.80,2651.00 H2720.80 Q2693.80,2651.00 2693.80,2624.00 V2337.00 Q2693.80,2310.00 2720.80,2310.00 Z" fill="#E4F8F8" stroke="#E0F7F8" stroke-width="10"/>
<path d="M2720.80,2310.00 H3374.80 Q3401.80,2310.00 3401.80,2337.00 V2624.00 Q3401.80,2651.00 3374.80,2651.00 H2720.80 Q2693.80,2651.00 2693.80,2624.00 V2337.00 Q2693.80,2310.00 2720.80,2310.00 Z" fill="none" stroke="#CDEEEF" stroke-width="3.6"/>
<text x="2886.82" y="2428.50" font-size="74.94" font-weight="bold" fill="#34CCCC" stroke="#34CCCC" stroke-width="0.7" textLength="40.89" lengthAdjust="spacingAndGlyphs">$</text>
<text x="2934.52" y="2428.50" font-size="74.94" font-weight="bold" fill="#34CCCC" stroke="#34CCCC" stroke-width="0.7" textLength="43.36" lengthAdjust="spacingAndGlyphs">3</text>
<text x="2980.82" y="2428.50" font-size="74.94" font-weight="bold" fill="#34CCCC" stroke="#34CCCC" stroke-width="0.7" textLength="49.26" lengthAdjust="spacingAndGlyphs">0</text>
<text x="3030.47" y="2428.50" font-size="74.94" font-weight="bold" fill="#34CCCC" stroke="#34CCCC" stroke-width="0.7" textLength="28.57" lengthAdjust="spacingAndGlyphs">-</text>
<text x="3062.48" y="2428.50" font-size="74.94" font-weight="bold" fill="#34CCCC" stroke="#34CCCC" stroke-width="0.7" textLength="43.36" lengthAdjust="spacingAndGlyphs">3</text>
<text x="3112.00" y="2428.50" font-size="74.94" font-weight="bold" fill="#34CCCC" stroke="#34CCCC" stroke-width="0.7" textLength="43.36" lengthAdjust="spacingAndGlyphs">5</text>
<text x="3159.42" y="2428.50" font-size="74.94" font-weight="bold" fill="#34CCCC" stroke="#34CCCC" stroke-width="0.7" textLength="56.36" lengthAdjust="spacingAndGlyphs">K</text>
<text x="2810.18" y="2544.50" font-size="66.13" fill="#1B1F3B" textLength="51.66" lengthAdjust="spacingAndGlyphs">M</text>
<text x="2863.71" y="2544.50" font-size="66.13" fill="#1B1F3B" textLength="37.37" lengthAdjust="spacingAndGlyphs">e</text>
<text x="2902.14" y="2544.50" font-size="66.13" fill="#1B1F3B" textLength="37.70" lengthAdjust="spacingAndGlyphs">d</text>
<text x="2942.84" y="2544.50" font-size="66.13" fill="#1B1F3B" textLength="14.05" lengthAdjust="spacingAndGlyphs">i</text>
<text x="2959.92" y="2544.50" font-size="66.13" fill="#1B1F3B" textLength="31.37" lengthAdjust="spacingAndGlyphs">a</text>
<text x="2997.97" y="2544.50" font-size="66.13" fill="#1B1F3B" textLength="37.43" lengthAdjust="spacingAndGlyphs">n</text>
<text x="3056.78" y="2544.50" font-size="66.13" fill="#1B1F3B" textLength="17.64" lengthAdjust="spacingAndGlyphs">I</text>
<text x="3075.88" y="2544.50" font-size="66.13" fill="#1B1F3B" textLength="37.43" lengthAdjust="spacingAndGlyphs">n</text>
<text x="3115.23" y="2544.50" font-size="66.13" fill="#1B1F3B" textLength="31.32" lengthAdjust="spacingAndGlyphs">c</text>
<text x="3149.44" y="2544.50" font-size="66.13" fill="#1B1F3B" textLength="36.78" lengthAdjust="spacingAndGlyphs">o</text>
<text x="3187.83" y="2544.50" font-size="66.13" fill="#1B1F3B" textLength="59.25" lengthAdjust="spacingAndGlyphs">m</text>
<text x="3248.52" y="2544.50" font-size="66.13" fill="#1B1F3B" textLength="37.37" lengthAdjust="spacingAndGlyphs">e</text>
<path d="M3633.00,2310.00 H4287.00 Q4314.00,2310.00 4314.00,2337.00 V2624.00 Q4314.00,2651.00 4287.00,2651.00 H3633.00 Q3606.00,2651.00 3606.00,2624.00 V2337.00 Q3606.00,2310.00 3633.00,2310.00 Z" fill="#E3E4E8" stroke="#E5E6EA" stroke-width="10"/>
<path d="M3633.00,2310.00 H4287.00 Q4314.00,2310.00 4314.00,2337.00 V2624.00 Q4314.00,2651.00 4287.00,2651.00 H3633.00 Q3606.00,2651.00 3606.00,2624.00 V2337.00 Q3606.00,2310.00 3633.00,2310.00 Z" fill="none" stroke="#C8C8CE" stroke-width="3.6"/>
<text x="3814.02" y="2428.50" font-size="74.94" font-weight="bold" fill="#1B1F3B" stroke="#1B1F3B" stroke-width="0.7" textLength="43.12" lengthAdjust="spacingAndGlyphs">2</text>
<text x="3860.33" y="2428.50" font-size="74.94" font-weight="bold" fill="#1B1F3B" stroke="#1B1F3B" stroke-width="0.7" textLength="49.26" lengthAdjust="spacingAndGlyphs">0</text>
<text x="3909.98" y="2428.50" font-size="74.94" font-weight="bold" fill="#1B1F3B" stroke="#1B1F3B" stroke-width="0.7" textLength="28.57" lengthAdjust="spacingAndGlyphs">-</text>
<text x="3941.98" y="2428.50" font-size="74.94" font-weight="bold" fill="#1B1F3B" stroke="#1B1F3B" stroke-width="0.7" textLength="43.12" lengthAdjust="spacingAndGlyphs">2</text>
<text x="3991.52" y="2428.50" font-size="74.94" font-weight="bold" fill="#1B1F3B" stroke="#1B1F3B" stroke-width="0.7" textLength="43.36" lengthAdjust="spacingAndGlyphs">5</text>
<text x="4038.04" y="2428.50" font-size="74.94" font-weight="bold" fill="#1B1F3B" stroke="#1B1F3B" stroke-width="0.7" textLength="70.34" lengthAdjust="spacingAndGlyphs">%</text>
<text x="3768.36" y="2544.50" font-size="66.13" fill="#1B1F3B" textLength="36.60" lengthAdjust="spacingAndGlyphs">P</text>
<text x="3802.86" y="2544.50" font-size="66.13" fill="#1B1F3B" textLength="36.78" lengthAdjust="spacingAndGlyphs">o</text>
<text x="3842.10" y="2544.50" font-size="66.13" fill="#1B1F3B" textLength="33.57" lengthAdjust="spacingAndGlyphs">v</text>
<text x="3878.04" y="2544.50" font-size="66.13" fill="#1B1F3B" textLength="37.37" lengthAdjust="spacingAndGlyphs">e</text>
<text x="3916.06" y="2544.50" font-size="66.13" fill="#1B1F3B" textLength="26.69" lengthAdjust="spacingAndGlyphs">r</text>
<text x="3941.96" y="2544.50" font-size="66.13" fill="#1B1F3B" textLength="22.96" lengthAdjust="spacingAndGlyphs">t</text>
<text x="3967.74" y="2544.50" font-size="66.13" fill="#1B1F3B" textLength="33.31" lengthAdjust="spacingAndGlyphs">y</text>
<text x="4023.79" y="2544.50" font-size="66.13" fill="#1B1F3B" textLength="35.52" lengthAdjust="spacingAndGlyphs">L</text>
<text x="4059.37" y="2544.50" font-size="66.13" fill="#1B1F3B" textLength="14.05" lengthAdjust="spacingAndGlyphs">i</text>
<text x="4076.20" y="2544.50" font-size="66.13" fill="#1B1F3B" textLength="37.43" lengthAdjust="spacingAndGlyphs">n</text>
<text x="4115.35" y="2544.50" font-size="66.13" fill="#1B1F3B" textLength="37.37" lengthAdjust="spacingAndGlyphs">e</text>
<path d="M3176.75,2785.25 H3830.75 Q3857.75,2785.25 3857.75,2812.25 V3099.25 Q3857.75,3126.25 3830.75,3126.25 H3176.75 Q3149.75,3126.25 3149.75,3099.25 V2812.25 Q3149.75,2785.25 3176.75,2785.25 Z" fill="#EDEDED" stroke="#EEEEEE" stroke-width="10"/>
<path d="M3176.75,2785.25 H3830.75 Q3857.75,2785.25 3857.75,2812.25 V3099.25 Q3857.75,3126.25 3830.75,3126.25 H3176.75 Q3149.75,3126.25 3149.75,3099.25 V2812.25 Q3149.75,2785.25 3176.75,2785.25 Z" fill="none" stroke="#D9D9D9" stroke-width="3.6"/>
<text x="3357.93" y="2903.75" font-size="74.94" font-weight="bold" fill="#6F6F6F" stroke="#6F6F6F" stroke-width="0.7" textLength="43.17" lengthAdjust="spacingAndGlyphs">1</text>
<text x="3407.30" y="2903.75" font-size="74.94" font-weight="bold" fill="#6F6F6F" stroke="#6F6F6F" stroke-width="0.7" textLength="43.36" lengthAdjust="spacingAndGlyphs">5</text>
<text x="3453.73" y="2903.75" font-size="74.94" font-weight="bold" fill="#6F6F6F" stroke="#6F6F6F" stroke-width="0.7" textLength="28.57" lengthAdjust="spacingAndGlyphs">-</text>
<text x="3485.73" y="2903.75" font-size="74.94" font-weight="bold" fill="#6F6F6F" stroke="#6F6F6F" stroke-width="0.7" textLength="43.12" lengthAdjust="spacingAndGlyphs">2</text>
<text x="3535.27" y="2903.75" font-size="74.94" font-weight="bold" fill="#6F6F6F" stroke="#6F6F6F" stroke-width="0.7" textLength="43.36" lengthAdjust="spacingAndGlyphs">5</text>
<text x="3581.79" y="2903.75" font-size="74.94" font-weight="bold" fill="#6F6F6F" stroke="#6F6F6F" stroke-width="0.7" textLength="70.34" lengthAdjust="spacingAndGlyphs">%</text>
<text x="3296.01" y="3019.75" font-size="66.13" fill="#1B1F3B" textLength="36.60" lengthAdjust="spacingAndGlyphs">P</text>
<text x="3331.17" y="3019.75" font-size="66.13" fill="#1B1F3B" textLength="26.69" lengthAdjust="spacingAndGlyphs">r</text>
<text x="3358.29" y="3019.75" font-size="66.13" fill="#1B1F3B" textLength="14.05" lengthAdjust="spacingAndGlyphs">i</text>
<text x="3374.86" y="3019.75" font-size="66.13" fill="#1B1F3B" textLength="31.32" lengthAdjust="spacingAndGlyphs">c</text>
<text x="3409.02" y="3019.75" font-size="66.13" fill="#1B1F3B" textLength="37.37" lengthAdjust="spacingAndGlyphs">e</text>
<text x="3446.67" y="3019.75" font-size="66.13" fill="#1B1F3B" textLength="22.71" lengthAdjust="spacingAndGlyphs">-</text>
<text x="3470.42" y="3019.75" font-size="66.13" fill="#1B1F3B" textLength="51.66" lengthAdjust="spacingAndGlyphs">M</text>
<text x="3524.95" y="3019.75" font-size="66.13" fill="#1B1F3B" textLength="29.90" lengthAdjust="spacingAndGlyphs">s</text>
<text x="3556.49" y="3019.75" font-size="66.13" fill="#1B1F3B" textLength="37.70" lengthAdjust="spacingAndGlyphs">g</text>
<text x="3616.29" y="3019.75" font-size="66.13" fill="#1B1F3B" textLength="35.52" lengthAdjust="spacingAndGlyphs">L</text>
<text x="3651.87" y="3019.75" font-size="66.13" fill="#1B1F3B" textLength="14.05" lengthAdjust="spacingAndGlyphs">i</text>
<text x="3667.76" y="3019.75" font-size="66.13" fill="#1B1F3B" textLength="22.83" lengthAdjust="spacingAndGlyphs">f</text>
<text x="3688.91" y="3019.75" font-size="66.13" fill="#1B1F3B" textLength="22.96" lengthAdjust="spacingAndGlyphs">t</text>
<text x="2709.18" y="421.00" font-size="79.35" font-weight="bold" fill="#000" stroke="#000" stroke-width="0.7" textLength="58.55" lengthAdjust="spacingAndGlyphs">V</text>
<text x="2762.98" y="421.00" font-size="79.35" font-weight="bold" fill="#000" stroke="#000" stroke-width="0.7" textLength="50.76" lengthAdjust="spacingAndGlyphs">e</text>
<text x="2814.32" y="421.00" font-size="79.35" font-weight="bold" fill="#000" stroke="#000" stroke-width="0.7" textLength="52.61" lengthAdjust="spacingAndGlyphs">h</text>
<text x="2867.08" y="421.00" font-size="79.35" font-weight="bold" fill="#000" stroke="#000" stroke-width="0.7" textLength="26.56" lengthAdjust="spacingAndGlyphs">i</text>
<text x="2893.57" y="421.00" font-size="79.35" font-weight="bold" fill="#000" stroke="#000" stroke-width="0.7" textLength="41.28" lengthAdjust="spacingAndGlyphs">c</text>
<text x="2937.24" y="421.00" font-size="79.35" font-weight="bold" fill="#000" stroke="#000" stroke-width="0.7" textLength="26.56" lengthAdjust="spacingAndGlyphs">l</text>
<text x="2963.12" y="421.00" font-size="79.35" font-weight="bold" fill="#000" stroke="#000" stroke-width="0.7" textLength="50.76" lengthAdjust="spacingAndGlyphs">e</text>
<text x="3014.77" y="421.00" font-size="79.35" font-weight="bold" fill="#000" stroke="#000" stroke-width="0.7" textLength="30.01" lengthAdjust="spacingAndGlyphs">-</text>
<text x="3046.78" y="421.00" font-size="79.35" font-weight="bold" fill="#000" stroke="#000" stroke-width="0.7" textLength="60.24" lengthAdjust="spacingAndGlyphs">D</text>
<text x="3107.37" y="421.00" font-size="79.35" font-weight="bold" fill="#000" stroke="#000" stroke-width="0.7" textLength="50.76" lengthAdjust="spacingAndGlyphs">e</text>
<text x="3158.91" y="421.00" font-size="79.35" font-weight="bold" fill="#000" stroke="#000" stroke-width="0.7" textLength="53.32" lengthAdjust="spacingAndGlyphs">p</text>
<text x="3211.92" y="421.00" font-size="79.35" font-weight="bold" fill="#000" stroke="#000" stroke-width="0.7" textLength="50.76" lengthAdjust="spacingAndGlyphs">e</text>
<text x="3263.57" y="421.00" font-size="79.35" font-weight="bold" fill="#000" stroke="#000" stroke-width="0.7" textLength="52.27" lengthAdjust="spacingAndGlyphs">n</text>
<text x="3316.04" y="421.00" font-size="79.35" font-weight="bold" fill="#000" stroke="#000" stroke-width="0.7" textLength="53.62" lengthAdjust="spacingAndGlyphs">d</text>
<text x="3369.87" y="421.00" font-size="79.35" font-weight="bold" fill="#000" stroke="#000" stroke-width="0.7" textLength="50.76" lengthAdjust="spacingAndGlyphs">e</text>
<text x="3421.52" y="421.00" font-size="79.35" font-weight="bold" fill="#000" stroke="#000" stroke-width="0.7" textLength="52.27" lengthAdjust="spacingAndGlyphs">n</text>
<text x="3474.00" y="421.00" font-size="79.35" font-weight="bold" fill="#000" stroke="#000" stroke-width="0.7" textLength="35.86" lengthAdjust="spacingAndGlyphs">t</text>
<text x="3537.10" y="421.00" font-size="79.35" font-weight="bold" fill="#000" stroke="#000" stroke-width="0.7" textLength="51.49" lengthAdjust="spacingAndGlyphs">C</text>
<text x="3591.39" y="421.00" font-size="79.35" font-weight="bold" fill="#000" stroke="#000" stroke-width="0.7" textLength="51.62" lengthAdjust="spacingAndGlyphs">o</text>
<text x="3643.36" y="421.00" font-size="79.35" font-weight="bold" fill="#000" stroke="#000" stroke-width="0.7" textLength="77.29" lengthAdjust="spacingAndGlyphs">m</text>
<text x="3721.51" y="421.00" font-size="79.35" font-weight="bold" fill="#000" stroke="#000" stroke-width="0.7" textLength="77.29" lengthAdjust="spacingAndGlyphs">m</text>
<text x="3799.51" y="421.00" font-size="79.35" font-weight="bold" fill="#000" stroke="#000" stroke-width="0.7" textLength="52.27" lengthAdjust="spacingAndGlyphs">u</text>
<text x="3852.22" y="421.00" font-size="79.35" font-weight="bold" fill="#000" stroke="#000" stroke-width="0.7" textLength="35.86" lengthAdjust="spacingAndGlyphs">t</text>
<text x="3888.21" y="421.00" font-size="79.35" font-weight="bold" fill="#000" stroke="#000" stroke-width="0.7" textLength="50.76" lengthAdjust="spacingAndGlyphs">e</text>
<text x="3939.00" y="421.00" font-size="79.35" font-weight="bold" fill="#000" stroke="#000" stroke-width="0.7" textLength="38.44" lengthAdjust="spacingAndGlyphs">r</text>
<text x="4003.62" y="421.00" font-size="79.35" font-weight="bold" fill="#000" stroke="#000" stroke-width="0.7" textLength="72.35" lengthAdjust="spacingAndGlyphs">M</text>
<text x="4078.03" y="421.00" font-size="79.35" font-weight="bold" fill="#000" stroke="#000" stroke-width="0.7" textLength="43.35" lengthAdjust="spacingAndGlyphs">a</text>
<text x="4127.34" y="421.00" font-size="79.35" font-weight="bold" fill="#000" stroke="#000" stroke-width="0.7" textLength="38.44" lengthAdjust="spacingAndGlyphs">r</text>
<text x="4164.43" y="421.00" font-size="79.35" font-weight="bold" fill="#000" stroke="#000" stroke-width="0.7" textLength="51.58" lengthAdjust="spacingAndGlyphs">k</text>
<text x="4212.27" y="421.00" font-size="79.35" font-weight="bold" fill="#000" stroke="#000" stroke-width="0.7" textLength="50.76" lengthAdjust="spacingAndGlyphs">e</text>
<text x="4263.00" y="421.00" font-size="79.35" font-weight="bold" fill="#000" stroke="#000" stroke-width="0.7" textLength="35.86" lengthAdjust="spacingAndGlyphs">t</text>
<rect x="2675.20" y="636.00" width="473.6" height="1056.00" fill="#5DD6D6"/>
<rect x="3859.20" y="1256.40" width="473.6" height="435.60" fill="#8C8C8C"/>
<line x1="2592" y1="502.33" x2="2592" y2="1693.66" stroke="#000" stroke-width="3.33"/>
<line x1="2590.34" y1="1692" x2="4417.5" y2="1692" stroke="#000" stroke-width="3.33"/>
<line x1="2577.42" y1="1692.00" x2="2592" y2="1692.00" stroke="#000" stroke-width="3.33"/>
<text x="2528.29" y="1711.50" font-size="57.31" fill="#000" textLength="32.16" lengthAdjust="spacingAndGlyphs">0</text>
<line x1="2577.42" y1="1560.00" x2="2592" y2="1560.00" stroke="#000" stroke-width="3.33"/>
<text x="2494.52" y="1579.50" font-size="57.31" fill="#000" textLength="30.26" lengthAdjust="spacingAndGlyphs">1</text>
<text x="2528.25" y="1579.50" font-size="57.31" fill="#000" textLength="32.16" lengthAdjust="spacingAndGlyphs">0</text>
<line x1="2577.42" y1="1428.00" x2="2592" y2="1428.00" stroke="#000" stroke-width="3.33"/>
<text x="2493.67" y="1447.50" font-size="57.31" fill="#000" textLength="30.65" lengthAdjust="spacingAndGlyphs">2</text>
<text x="2528.25" y="1447.50" font-size="57.31" fill="#000" textLength="32.16" lengthAdjust="spacingAndGlyphs">0</text>
<line x1="2577.42" y1="1296.00" x2="2592" y2="1296.00" stroke="#000" stroke-width="3.33"/>
<text x="2494.64" y="1315.50" font-size="57.31" fill="#000" textLength="30.69" lengthAdjust="spacingAndGlyphs">3</text>
<text x="2528.25" y="1315.50" font-size="57.31" fill="#000" textLength="32.16" lengthAdjust="spacingAndGlyphs">0</text>
<line x1="2577.42" y1="1164.00" x2="2592" y2="1164.00" stroke="#000" stroke-width="3.33"/>
<text x="2494.07" y="1183.50" font-size="57.31" fill="#000" textLength="31.60" lengthAdjust="spacingAndGlyphs">4</text>
<text x="2528.25" y="1183.50" font-size="57.31" fill="#000" textLength="32.16" lengthAdjust="spacingAndGlyphs">0</text>
<line x1="2577.42" y1="1032.00" x2="2592" y2="1032.00" stroke="#000" stroke-width="3.33"/>
<text x="2494.70" y="1051.50" font-size="57.31" fill="#000" textLength="29.82" lengthAdjust="spacingAndGlyphs">5</text>
<text x="2528.25" y="1051.50" font-size="57.31" fill="#000" textLength="32.16" lengthAdjust="spacingAndGlyphs">0</text>
<line x1="2577.42" y1="900.00" x2="2592" y2="900.00" stroke="#000" stroke-width="3.33"/>
<text x="2493.20" y="919.50" font-size="57.31" fill="#000" textLength="33.09" lengthAdjust="spacingAndGlyphs">6</text>
<text x="2528.25" y="919.50" font-size="57.31" fill="#000" textLength="32.16" lengthAdjust="spacingAndGlyphs">0</text>
<line x1="2577.42" y1="768.00" x2="2592" y2="768.00" stroke="#000" stroke-width="3.33"/>
<text x="2494.11" y="787.50" font-size="57.31" fill="#000" textLength="31.26" lengthAdjust="spacingAndGlyphs">7</text>
<text x="2528.25" y="787.50" font-size="57.31" fill="#000" textLength="32.16" lengthAdjust="spacingAndGlyphs">0</text>
<line x1="2577.42" y1="636.00" x2="2592" y2="636.00" stroke="#000" stroke-width="3.33"/>
<text x="2493.79" y="655.50" font-size="57.31" fill="#000" textLength="32.17" lengthAdjust="spacingAndGlyphs">8</text>
<text x="2528.25" y="655.50" font-size="57.31" fill="#000" textLength="32.16" lengthAdjust="spacingAndGlyphs">0</text>
<line x1="2577.42" y1="504.00" x2="2592" y2="504.00" stroke="#000" stroke-width="3.33"/>
<text x="2493.23" y="523.50" font-size="57.31" fill="#000" textLength="32.77" lengthAdjust="spacingAndGlyphs">9</text>
<text x="2528.25" y="523.50" font-size="57.31" fill="#000" textLength="32.16" lengthAdjust="spacingAndGlyphs">0</text>
<line x1="2912" y1="1692" x2="2912" y2="1706.58" stroke="#000" stroke-width="3.33"/>
<line x1="3504" y1="1692" x2="3504" y2="1706.58" stroke="#000" stroke-width="3.33"/>
<line x1="4096" y1="1692" x2="4096" y2="1706.58" stroke="#000" stroke-width="3.33"/>
<text x="2731.31" y="1767.50" font-size="66.13" fill="#000" textLength="46.54" lengthAdjust="spacingAndGlyphs">D</text>
<text x="2778.81" y="1767.50" font-size="66.13" fill="#000" textLength="26.69" lengthAdjust="spacingAndGlyphs">r</text>
<text x="2805.94" y="1767.50" font-size="66.13" fill="#000" textLength="14.05" lengthAdjust="spacingAndGlyphs">i</text>
<text x="2823.35" y="1767.50" font-size="66.13" fill="#000" textLength="33.57" lengthAdjust="spacingAndGlyphs">v</text>
<text x="2859.29" y="1767.50" font-size="66.13" fill="#000" textLength="37.37" lengthAdjust="spacingAndGlyphs">e</text>
<text x="2917.18" y="1767.50" font-size="66.13" fill="#000" textLength="42.09" lengthAdjust="spacingAndGlyphs">A</text>
<text x="2961.37" y="1767.50" font-size="66.13" fill="#000" textLength="14.05" lengthAdjust="spacingAndGlyphs">l</text>
<text x="2977.78" y="1767.50" font-size="66.13" fill="#000" textLength="36.78" lengthAdjust="spacingAndGlyphs">o</text>
<text x="3016.43" y="1767.50" font-size="66.13" fill="#000" textLength="37.43" lengthAdjust="spacingAndGlyphs">n</text>
<text x="3055.58" y="1767.50" font-size="66.13" fill="#000" textLength="37.37" lengthAdjust="spacingAndGlyphs">e</text>
<text x="3283.29" y="1767.00" font-size="66.13" fill="#000" textLength="48.29" lengthAdjust="spacingAndGlyphs">O</text>
<text x="3332.95" y="1767.00" font-size="66.13" fill="#000" textLength="37.43" lengthAdjust="spacingAndGlyphs">u</text>
<text x="3372.11" y="1767.00" font-size="66.13" fill="#000" textLength="22.96" lengthAdjust="spacingAndGlyphs">t</text>
<text x="3396.05" y="1767.00" font-size="66.13" fill="#000" textLength="22.71" lengthAdjust="spacingAndGlyphs">-</text>
<text x="3419.37" y="1767.00" font-size="66.13" fill="#000" textLength="41.78" lengthAdjust="spacingAndGlyphs">C</text>
<text x="3463.09" y="1767.00" font-size="66.13" fill="#000" textLength="36.78" lengthAdjust="spacingAndGlyphs">o</text>
<text x="3501.48" y="1767.00" font-size="66.13" fill="#000" textLength="59.25" lengthAdjust="spacingAndGlyphs">m</text>
<text x="3562.36" y="1767.00" font-size="66.13" fill="#000" textLength="59.25" lengthAdjust="spacingAndGlyphs">m</text>
<text x="3623.27" y="1767.00" font-size="66.13" fill="#000" textLength="37.43" lengthAdjust="spacingAndGlyphs">u</text>
<text x="3662.43" y="1767.00" font-size="66.13" fill="#000" textLength="22.96" lengthAdjust="spacingAndGlyphs">t</text>
<text x="3687.16" y="1767.00" font-size="66.13" fill="#000" textLength="37.37" lengthAdjust="spacingAndGlyphs">e</text>
<text x="3966.92" y="1767.00" font-size="66.13" fill="#000" textLength="35.03" lengthAdjust="spacingAndGlyphs">3</text>
<text x="4005.83" y="1767.00" font-size="66.13" fill="#000" textLength="36.49" lengthAdjust="spacingAndGlyphs">0</text>
<text x="4046.59" y="1767.00" font-size="66.13" fill="#000" textLength="47.00" lengthAdjust="spacingAndGlyphs">+</text>
<text x="4117.41" y="1767.00" font-size="66.13" fill="#000" textLength="51.66" lengthAdjust="spacingAndGlyphs">M</text>
<text x="4171.93" y="1767.00" font-size="66.13" fill="#000" textLength="14.05" lengthAdjust="spacingAndGlyphs">i</text>
<text x="4188.76" y="1767.00" font-size="66.13" fill="#000" textLength="37.43" lengthAdjust="spacingAndGlyphs">n</text>
<text x="3943.44" y="1838.00" font-size="66.13" fill="#000" textLength="41.78" lengthAdjust="spacingAndGlyphs">C</text>
<text x="3987.16" y="1838.00" font-size="66.13" fill="#000" textLength="36.78" lengthAdjust="spacingAndGlyphs">o</text>
<text x="4025.55" y="1838.00" font-size="66.13" fill="#000" textLength="59.25" lengthAdjust="spacingAndGlyphs">m</text>
<text x="4086.43" y="1838.00" font-size="66.13" fill="#000" textLength="59.25" lengthAdjust="spacingAndGlyphs">m</text>
<text x="4147.33" y="1838.00" font-size="66.13" fill="#000" textLength="37.43" lengthAdjust="spacingAndGlyphs">u</text>
<text x="4186.49" y="1838.00" font-size="66.13" fill="#000" textLength="22.96" lengthAdjust="spacingAndGlyphs">t</text>
<text x="4211.23" y="1838.00" font-size="66.13" fill="#000" textLength="37.37" lengthAdjust="spacingAndGlyphs">e</text>
<text transform="translate(2465.40,0) rotate(-90)" x="-1274.91" y="0.00" font-size="61.72" fill="#000" textLength="54.22" lengthAdjust="spacingAndGlyphs">W</text>
<text transform="translate(2465.40,0) rotate(-90)" x="-1221.68" y="0.00" font-size="61.72" fill="#000" textLength="34.32" lengthAdjust="spacingAndGlyphs">o</text>
<text transform="translate(2465.40,0) rotate(-90)" x="-1186.33" y="0.00" font-size="61.72" fill="#000" textLength="24.86" lengthAdjust="spacingAndGlyphs">r</text>
<text transform="translate(2465.40,0) rotate(-90)" x="-1162.04" y="0.00" font-size="61.72" fill="#000" textLength="32.90" lengthAdjust="spacingAndGlyphs">k</text>
<text transform="translate(2465.40,0) rotate(-90)" x="-1130.63" y="0.00" font-size="61.72" fill="#000" textLength="35.22" lengthAdjust="spacingAndGlyphs">e</text>
<text transform="translate(2465.40,0) rotate(-90)" x="-1094.76" y="0.00" font-size="61.72" fill="#000" textLength="24.86" lengthAdjust="spacingAndGlyphs">r</text>
<text transform="translate(2465.40,0) rotate(-90)" x="-1069.51" y="0.00" font-size="61.72" fill="#000" textLength="27.72" lengthAdjust="spacingAndGlyphs">s</text>
<text transform="translate(2465.40,0) rotate(-90)" x="-1020.25" y="0.00" font-size="61.72" fill="#000" textLength="16.44" lengthAdjust="spacingAndGlyphs">(</text>
<text transform="translate(2465.40,0) rotate(-90)" x="-998.43" y="0.00" font-size="61.72" fill="#000" textLength="53.25" lengthAdjust="spacingAndGlyphs">%</text>
<text transform="translate(2465.40,0) rotate(-90)" x="-939.71" y="0.00" font-size="61.72" fill="#000" textLength="16.44" lengthAdjust="spacingAndGlyphs">)</text>
<path d="M2833.42,497.20 H2990.58 Q3011.28,497.20 3011.28,517.90 V582.30 Q3011.28,603.00 2990.58,603.00 H2833.42 Q2812.72,603.00 2812.72,582.30 V517.90 Q2812.72,497.20 2833.42,497.20 Z" fill="#FFFFFF" stroke="#5DD6D8" stroke-width="4.2"/>
<text x="2833.86" y="570.50" font-size="70.53" font-weight="bold" fill="#000" stroke="#000" stroke-width="0.7" textLength="43.18" lengthAdjust="spacingAndGlyphs">8</text>
<text x="2878.69" y="570.50" font-size="70.53" font-weight="bold" fill="#000" stroke="#000" stroke-width="0.7" textLength="46.84" lengthAdjust="spacingAndGlyphs">0</text>
<text x="2925.51" y="570.50" font-size="70.53" font-weight="bold" fill="#000" stroke="#000" stroke-width="0.7" textLength="66.44" lengthAdjust="spacingAndGlyphs">%</text>
<path d="M3365.20,1553.20 H3642.80 Q3663.50,1553.20 3663.50,1573.90 V1638.30 Q3663.50,1659.00 3642.80,1659.00 H3365.20 Q3344.50,1659.00 3344.50,1638.30 V1573.90 Q3344.50,1553.20 3365.20,1553.20 Z" fill="#FFFFFF" stroke="#494C62" stroke-width="4.2"/>
<text x="3365.28" y="1626.50" font-size="70.53" font-weight="bold" fill="#000" stroke="#000" stroke-width="0.7" textLength="43.68" lengthAdjust="spacingAndGlyphs">7</text>
<text x="3413.40" y="1626.50" font-size="70.53" font-weight="bold" fill="#000" stroke="#000" stroke-width="0.7" textLength="40.91" lengthAdjust="spacingAndGlyphs">5</text>
<text x="3457.26" y="1626.50" font-size="70.53" font-weight="bold" fill="#000" stroke="#000" stroke-width="0.7" textLength="26.75" lengthAdjust="spacingAndGlyphs">-</text>
<text x="3486.08" y="1626.50" font-size="70.53" font-weight="bold" fill="#000" stroke="#000" stroke-width="0.7" textLength="43.18" lengthAdjust="spacingAndGlyphs">8</text>
<text x="3533.85" y="1626.50" font-size="70.53" font-weight="bold" fill="#000" stroke="#000" stroke-width="0.7" textLength="40.91" lengthAdjust="spacingAndGlyphs">5</text>
<text x="3577.73" y="1626.50" font-size="70.53" font-weight="bold" fill="#000" stroke="#000" stroke-width="0.7" textLength="66.44" lengthAdjust="spacingAndGlyphs">%</text>
<path d="M4017.42,1117.60 H4174.58 Q4195.28,1117.60 4195.28,1138.30 V1202.70 Q4195.28,1223.40 4174.58,1223.40 H4017.42 Q3996.72,1223.40 3996.72,1202.70 V1138.30 Q3996.72,1117.60 4017.42,1117.60 Z" fill="#FFFFFF" stroke="#8C8C8C" stroke-width="4.2"/>
<text x="4019.00" y="1190.90" font-size="70.53" font-weight="bold" fill="#000" stroke="#000" stroke-width="0.7" textLength="41.19" lengthAdjust="spacingAndGlyphs">3</text>
<text x="4065.38" y="1190.90" font-size="70.53" font-weight="bold" fill="#000" stroke="#000" stroke-width="0.7" textLength="41.19" lengthAdjust="spacingAndGlyphs">3</text>
<text x="4109.51" y="1190.90" font-size="70.53" font-weight="bold" fill="#000" stroke="#000" stroke-width="0.7" textLength="66.44" lengthAdjust="spacingAndGlyphs">%</text>
</svg></body></html>
